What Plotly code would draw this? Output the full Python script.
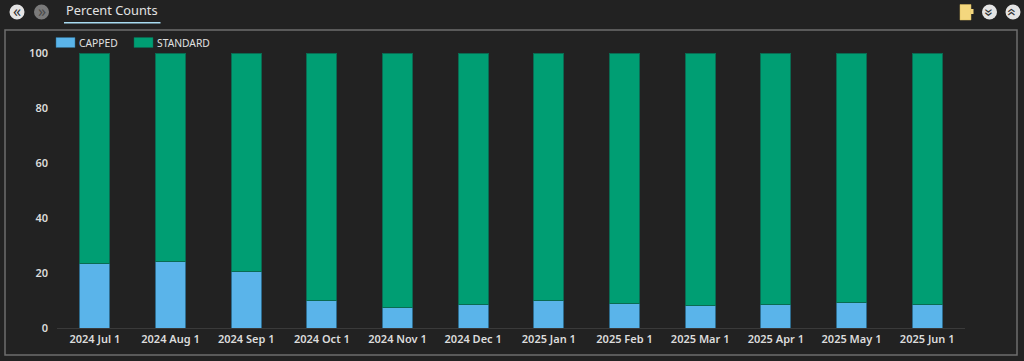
import plotly.graph_objects as go

months = ["2024 Jul 1", "2024 Aug 1", "2024 Sep 1", "2024 Oct 1", "2024 Nov 1", "2024 Dec 1",
          "2025 Jan 1", "2025 Feb 1", "2025 Mar 1", "2025 Apr 1", "2025 May 1", "2025 Jun 1"]
capped = [23.3, 24.1, 20.6, 10.0, 7.5, 8.5, 10.0, 9.0, 8.2, 8.5, 9.3, 8.6]
standard = [76.7, 75.9, 79.4, 90.0, 92.5, 91.5, 90.0, 91.0, 91.8, 91.5, 90.7, 91.4]
y_ticks = [0, 20, 40, 60, 80, 100]

W, H = 1024, 361
L, R, T, B = 57, 965, 53, 328
BG = "#222222"
BLUE = "#5ab4ea"
GREEN = "#009e73"
FONT = "Noto Sans"


def px(x):
    return (x - L) / (R - L)


def py(y):
    return (B - y) / (B - T)


def box(x0, y0, x1, y1, **kw):
    return dict(type="rect", xref="paper", yref="paper", x0=px(x0), x1=px(x1), y0=py(y1), y1=py(y0), **kw)


def circle(cx, cy, r, color):
    return dict(type="circle", xref="paper", yref="paper", x0=px(cx - r), x1=px(cx + r),
                y0=py(cy + r), y1=py(cy - r), fillcolor=color, line=dict(width=0), layer="above")


def label(x, y, text, size, color, anchor="left"):
    return dict(xref="paper", yref="paper", x=px(x), y=py(y), text=text, showarrow=False,
                xanchor=anchor, yanchor="middle", font=dict(family=FONT, size=size, color=color))


fig = go.Figure()
fig.add_bar(x=months, y=capped, name="CAPPED", width=0.4,
            marker=dict(color=BLUE, line=dict(color="#2f6d8f", width=1)), showlegend=False)
fig.add_bar(x=months, y=standard, name="STANDARD", width=0.4,
            marker=dict(color=GREEN, line=dict(color="#0a6b52", width=1)), showlegend=False)

shapes = [
    box(5, 30, 1017, 355, line=dict(color="#6e6e6e", width=1.5), fillcolor="rgba(0,0,0,0)", layer="below"),
    box(64, 22, 160.5, 23.5, line=dict(width=0), fillcolor="#a9dcf2", layer="above"),
    box(56, 37.5, 75, 47.5, line=dict(color="#2f6d8f", width=0.5), fillcolor=BLUE, layer="above"),
    box(134, 37.5, 153, 47.5, line=dict(color="#0a6b52", width=0.5), fillcolor=GREEN, layer="above"),
    circle(17, 12, 7.5, "#e4e4e4"),
    circle(41.5, 12, 7.5, "#7a7a7a"),
    circle(989.5, 12, 7.5, "#e4e4e4"),
    circle(1013, 12, 7.5, "#e4e4e4"),
    box(960, 4.5, 971, 20, line=dict(color="#d9b95c", width=0.5), fillcolor="#f4d77e", layer="above"),
    box(971, 9, 973.5, 14, line=dict(width=0), fillcolor="#f4d77e", layer="above"),
]

annotations = [
    label(64, 10, "Percent Counts", 12.8, "#e2e2e2"),
    label(77, 43, "CAPPED", 10.3, "#e0e0e0"),
    label(155, 43, "STANDARD", 10.3, "#e0e0e0"),
    label(17, 11, "«", 16, "#333333", "center"),
    label(41.5, 11, "»", 16, "#4a4a4a", "center"),
    label(989.5, 12, "»", 16, "#333333", "center"),
    label(1013, 12, "«", 16, "#333333", "center"),
]
annotations[5]["textangle"] = 90
annotations[6]["textangle"] = 90

fig.update_layout(
    width=W, height=H, barmode="stack", bargap=0.6,
    margin=dict(l=L, r=W - R, t=T, b=H - B, autoexpand=False),
    paper_bgcolor=BG, plot_bgcolor=BG,
    font=dict(family=FONT, size=10, color="#dcdcdc"),
    shapes=shapes, annotations=annotations,
    xaxis=dict(type="category", range=[-0.5, 11.5], showgrid=False, showline=True, linecolor="#3a3a3a",
               linewidth=1, ticks="", ticklen=0, ticklabelstandoff=1,
               tickfont=dict(family=FONT, size=11, color="#dcdcdc", weight=600)),
    yaxis=dict(range=[0, 100], tickvals=y_ticks, showgrid=False, showline=False, zeroline=False, ticks="",
               ticklabelstandoff=8,
               tickfont=dict(family=FONT, size=11, color="#dcdcdc", weight=600)),
)
fig.write_html("out.html", config=dict(displayModeBar=False),
               post_script="document.body.style.margin='0';document.documentElement.style.overflow='hidden';document.body.style.background='#222222';")
